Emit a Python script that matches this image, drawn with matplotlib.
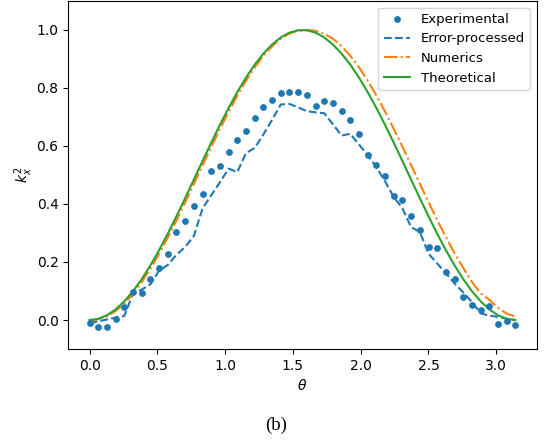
import numpy as np
import matplotlib
matplotlib.use("Agg")
import matplotlib.pyplot as plt

theta = [0.0, 0.0641, 0.1282, 0.1923, 0.2565, 0.3206, 0.3847, 0.4488, 0.5129, 0.5770,
         0.6411, 0.7053, 0.7694, 0.8335, 0.8976, 0.9617, 1.0258, 1.0899, 1.1541, 1.2182,
         1.2823, 1.3464, 1.4105, 1.4746, 1.5387, 1.6029, 1.6670, 1.7311, 1.7952, 1.8593,
         1.9234, 1.9875, 2.0517, 2.1158, 2.1799, 2.2440, 2.3081, 2.3722, 2.4363, 2.5005,
         2.5646, 2.6287, 2.6928, 2.7569, 2.8210, 2.8851, 2.9493, 3.0134, 3.0775, 3.1416]

experimental = [-0.009, -0.023, -0.024, 0.002, 0.046, 0.096, 0.094, 0.141, 0.178, 0.227,
                0.302, 0.341, 0.392, 0.434, 0.514, 0.530, 0.580, 0.619, 0.652, 0.697,
                0.735, 0.759, 0.783, 0.785, 0.786, 0.775, 0.737, 0.756, 0.749, 0.721,
                0.689, 0.643, 0.570, 0.535, 0.497, 0.429, 0.415, 0.359, 0.310, 0.252,
                0.249, 0.164, 0.140, 0.078, 0.052, 0.034, 0.050, -0.015, -0.002, -0.016]

error_processed = [-0.011, -0.005, 0.002, 0.008, 0.014, 0.092, 0.105, 0.123, 0.170, 0.190,
                   0.225, 0.252, 0.290, 0.385, 0.430, 0.475, 0.522, 0.510, 0.576, 0.593,
                   0.640, 0.690, 0.743, 0.745, 0.733, 0.720, 0.716, 0.713, 0.675, 0.636,
                   0.642, 0.605, 0.568, 0.527, 0.478, 0.424, 0.385, 0.320, 0.304, 0.229,
                   0.195, 0.161, 0.126, 0.095, 0.062, 0.023, 0.015, 0.011, 0.004, 0.000]

numerics = [-0.005, 0.0024, 0.0127, 0.0312, 0.0569, 0.0905, 0.1306, 0.1768, 0.2281, 0.2840,
            0.3434, 0.4054, 0.4690, 0.5330, 0.5966, 0.6584, 0.7177, 0.7735, 0.8248, 0.8709,
            0.9109, 0.9440, 0.9699, 0.9877, 0.9976, 0.9999, 0.9968, 0.9868, 0.9699, 0.9442,
            0.9112, 0.8715, 0.8255, 0.7743, 0.7186, 0.6594, 0.5975, 0.5341, 0.4702, 0.4067,
            0.3450, 0.2860, 0.2303, 0.1792, 0.1313, 0.0920, 0.0700, 0.0420, 0.0220, 0.0120]

theoretical = [0.0, 0.0041, 0.0164, 0.0365, 0.0644, 0.0993, 0.1409, 0.1883, 0.2408, 0.2976,
               0.3577, 0.4202, 0.4840, 0.5481, 0.6112, 0.6727, 0.7312, 0.7859, 0.8359, 0.8804,
               0.9185, 0.9498, 0.9743, 0.9908, 0.9990, 0.9990, 0.9908, 0.9743, 0.9498, 0.9185,
               0.8804, 0.8359, 0.7859, 0.7312, 0.6727, 0.6112, 0.5481, 0.4840, 0.4202, 0.3577,
               0.2976, 0.2408, 0.1883, 0.1409, 0.0993, 0.0644, 0.0365, 0.0164, 0.0041, 0.0]

fig = plt.figure(figsize=(5.52, 4.40), dpi=100)
ax = fig.add_axes([0.1237, 0.2068, 0.8486, 0.791])

ax.scatter(theta, experimental, s=15, color='#1f77b4', label='Experimental', zorder=3)
ax.plot(theta, error_processed, '--', color='#1f77b4', label='Error-processed')
ax.plot(theta, numerics, '-.', color='#ff7f0e', label='Numerics')
ax.plot(theta, theoretical, '-', color='#2ca02c', label='Theoretical')

ax.set_ylim(-0.1, 1.1)
ax.set_xlabel(r'$\theta$')
ax.set_ylabel(r'$k_x^2$', labelpad=1)
ax.legend(loc='upper right', fontsize=9.5)

fig.text(0.5, 0.034, '(b)', ha='center', va='center',
         family=['Liberation Serif', 'DejaVu Serif'], fontsize=13.5)

fig.savefig('out.png', dpi=100)
